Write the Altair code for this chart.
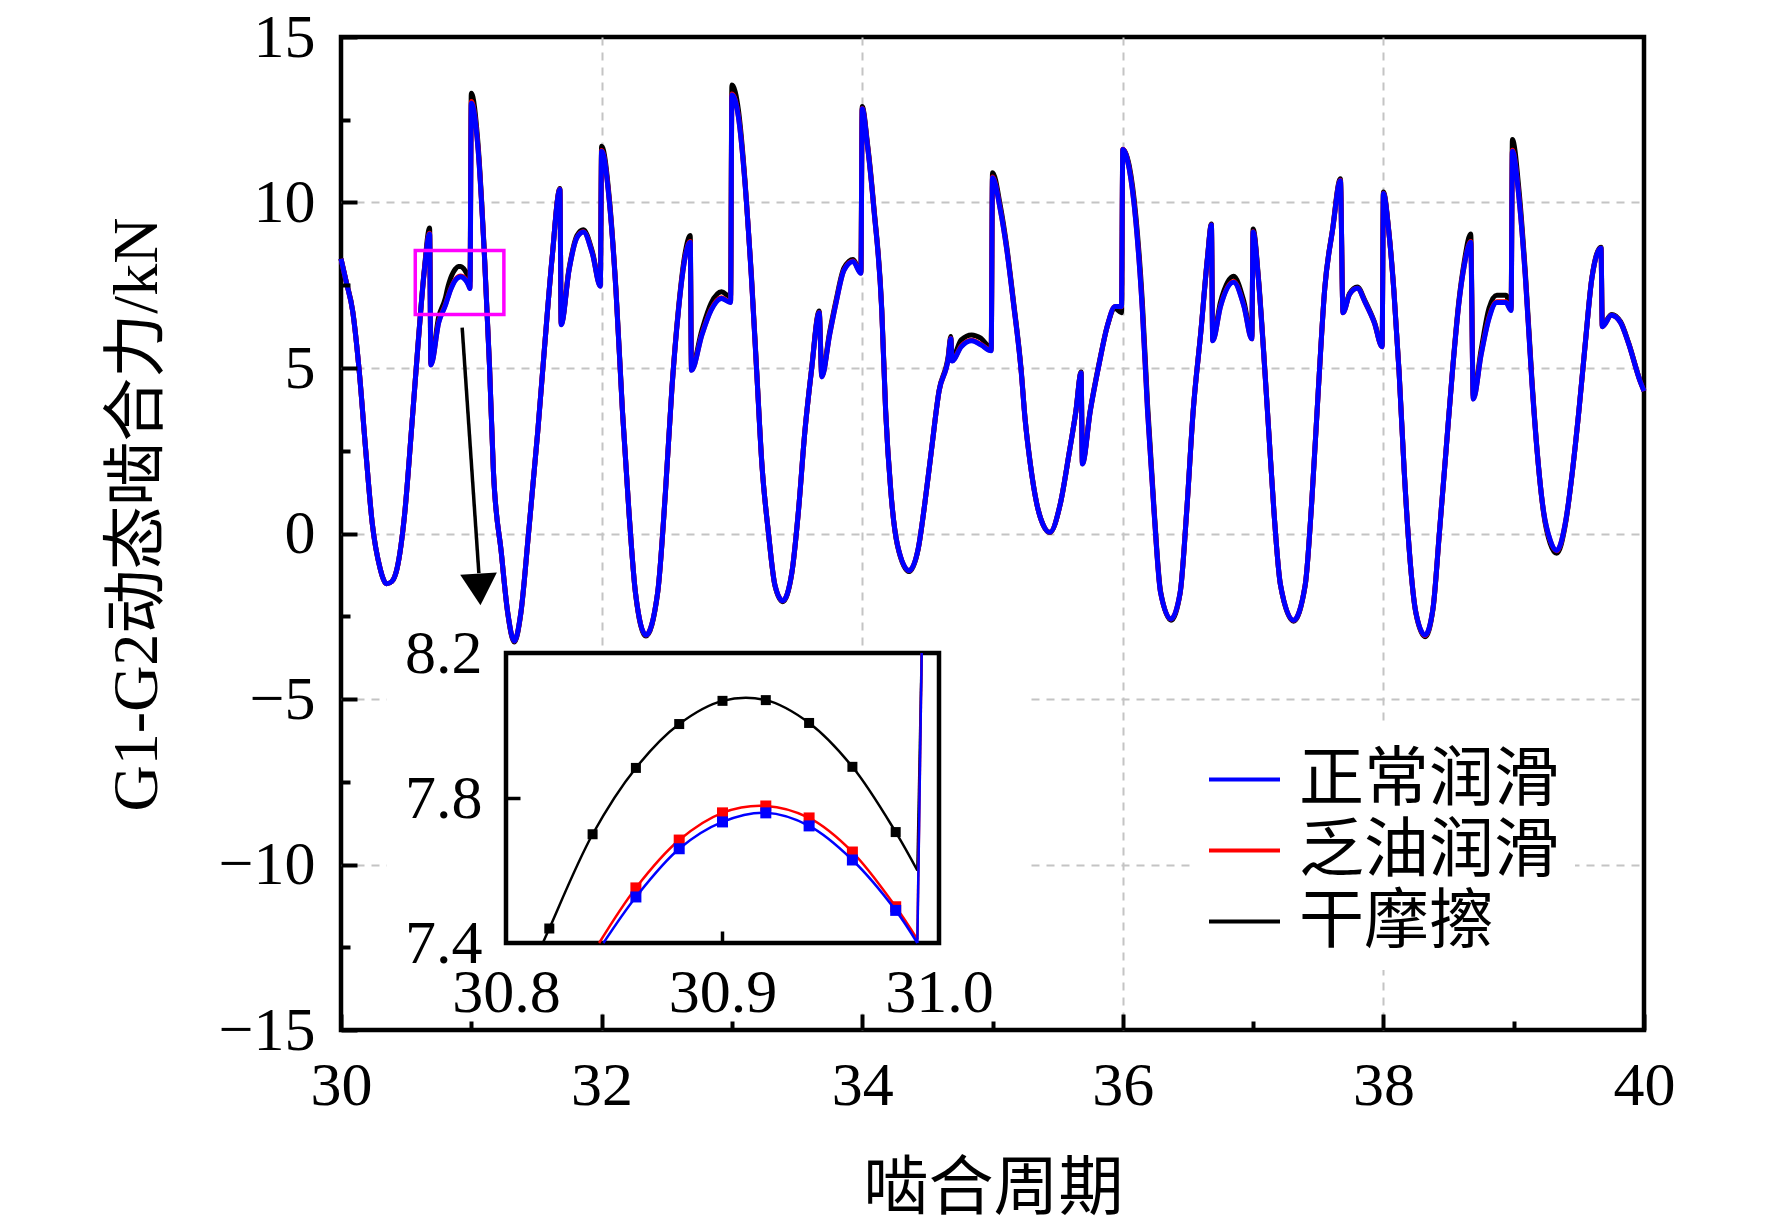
import altair as alt
import pandas as pd

# ---------------- data ----------------
cycle_x = [
    30.00, 30.04, 30.09, 30.14, 30.19, 30.24, 30.30, 30.35, 30.39, 30.43, 30.49, 30.54, 30.59, 30.64, 30.68, 30.69, 30.75, 30.80, 30.82, 30.84, 30.86, 30.88, 30.90, 30.92, 30.94, 30.96, 30.98, 30.99,
    31.00, 31.05, 31.10, 31.14, 31.17, 31.23, 31.28, 31.33, 31.38, 31.44, 31.51, 31.56, 31.62, 31.68, 31.69, 31.75, 31.81, 31.86, 31.93, 31.99,
    32.00, 32.06, 32.11, 32.16, 32.21, 32.26, 32.34, 32.43, 32.49, 32.54, 32.59, 32.64, 32.68, 32.69, 32.77, 32.84, 32.92, 32.99,
    33.00, 33.05, 33.10, 33.15, 33.19, 33.23, 33.28, 33.33, 33.39, 33.46, 33.51, 33.56, 33.61, 33.67, 33.69, 33.75, 33.80, 33.86, 33.93, 33.99,
    34.00, 34.04, 34.09, 34.15, 34.18, 34.22, 34.27, 34.36, 34.43, 34.48, 34.53, 34.59, 34.66, 34.68, 34.69, 34.76, 34.84, 34.91, 34.99,
    35.00, 35.06, 35.11, 35.16, 35.22, 35.25, 35.29, 35.34, 35.39, 35.44, 35.52, 35.59, 35.64, 35.68, 35.69, 35.75, 35.82, 35.88, 35.94, 35.99,
    36.00, 36.05, 36.10, 36.15, 36.19, 36.24, 36.29, 36.37, 36.44, 36.49, 36.54, 36.60, 36.65, 36.68, 36.69, 36.75, 36.85, 36.93, 36.99,
    37.00, 37.04, 37.08, 37.12, 37.16, 37.21, 37.31, 37.40, 37.45, 37.50, 37.55, 37.61, 37.67, 37.69, 37.74, 37.80, 37.86, 37.93, 37.99,
    38.00, 38.04, 38.08, 38.12, 38.16, 38.20, 38.25, 38.32, 38.38, 38.43, 38.48, 38.53, 38.58, 38.62, 38.67, 38.69, 38.75, 38.81, 38.87, 38.94, 38.98, 38.99,
    39.04, 39.09, 39.14, 39.18, 39.23, 39.28, 39.33, 39.40, 39.45, 39.50, 39.55, 39.60, 39.67, 39.68, 39.75, 39.82, 39.88, 39.97, 40.00,
]

force_normal = [
    8.30, 7.60, 6.70, 4.90, 2.50, 0.30, -1.05, -1.52, -1.45, -1.06, 0.65, 3.08, 5.64, 7.95, 9.05, 5.09, 6.37, 6.88, 7.12, 7.35, 7.53, 7.66, 7.73, 7.76, 7.72, 7.63, 7.49, 7.40,
    13.00, 11.70, 8.44, 5.03, 1.86, -0.57, -2.40, -3.25, -2.40, 0.04, 3.08, 5.52, 8.32, 10.39, 6.31, 7.95, 8.93, 9.11, 8.44, 7.47,
    11.55, 10.00, 7.34, 3.69, 0.65, -1.79, -3.07, -1.79, 1.25, 4.40, 6.74, 8.32, 8.80, 4.93, 6.00, 6.74, 7.10, 6.98,
    13.25, 12.58, 10.60, 7.71, 4.90, 2.10, 0.04, -1.55, -2.03, -1.18, 0.65, 3.08, 4.90, 6.67, 4.73, 6.00, 6.98, 7.95, 8.22, 7.86,
    12.83, 11.73, 9.78, 6.74, 3.69, 1.25, -0.33, -1.12, -0.45, 0.89, 2.47, 4.30, 5.28, 5.88, 5.21, 5.64, 5.82, 5.70, 5.52,
    10.75, 9.78, 8.56, 6.98, 4.90, 3.45, 2.10, 0.89, 0.25, 0.04, 0.89, 2.47, 3.69, 4.85, 2.10, 3.69, 5.15, 6.25, 6.86, 6.86,
    11.60, 11.00, 9.42, 6.74, 3.69, 0.65, -1.79, -2.58, -1.79, 0.65, 3.69, 6.13, 8.32, 9.32, 5.82, 6.86, 7.59, 6.86, 5.88,
    9.11, 7.71, 5.52, 3.08, 0.65, -1.55, -2.62, -1.55, 0.95, 4.30, 7.40, 9.17, 10.66, 6.67, 7.22, 7.41, 6.98, 6.37, 5.64,
    10.27, 9.17, 7.34, 4.90, 1.86, -0.57, -2.40, -3.07, -2.28, 0.04, 2.47, 4.90, 6.98, 8.08, 8.80, 4.06, 5.40, 6.49, 6.98, 6.98, 6.74, 11.55,
    10.15, 7.71, 4.54, 2.47, 0.65, -0.20, -0.51, 0.40, 1.86, 3.69, 5.76, 7.71, 8.62, 6.25, 6.59, 6.37, 5.76, 4.60, 4.30,
]

force_starved = [
    8.30, 7.60, 6.70, 4.90, 2.50, 0.30, -1.05, -1.52, -1.45, -1.06, 0.65, 3.08, 5.64, 7.95, 9.07, 5.10, 6.39, 6.90, 7.14, 7.37, 7.55, 7.68, 7.76, 7.78, 7.75, 7.65, 7.50, 7.41,
    13.05, 11.72, 8.45, 5.03, 1.86, -0.57, -2.40, -3.25, -2.40, 0.04, 3.08, 5.52, 8.32, 10.40, 6.32, 7.96, 8.94, 9.12, 8.45, 7.48,
    11.57, 10.01, 7.34, 3.69, 0.65, -1.79, -3.07, -1.79, 1.25, 4.40, 6.75, 8.33, 8.82, 4.94, 6.02, 6.76, 7.12, 6.99,
    13.28, 12.60, 10.61, 7.71, 4.90, 2.10, 0.04, -1.55, -2.03, -1.18, 0.65, 3.08, 4.90, 6.68, 4.74, 6.01, 6.99, 7.96, 8.23, 7.87,
    12.84, 11.74, 9.79, 6.74, 3.69, 1.25, -0.33, -1.12, -0.45, 0.89, 2.47, 4.30, 5.29, 5.89, 5.22, 5.66, 5.84, 5.72, 5.53,
    10.77, 9.79, 8.57, 6.98, 4.90, 3.45, 2.10, 0.89, 0.25, 0.04, 0.89, 2.47, 3.69, 4.85, 2.11, 3.69, 5.15, 6.25, 6.86, 6.85,
    11.61, 11.01, 9.44, 6.76, 3.70, 0.65, -1.79, -2.58, -1.79, 0.65, 3.69, 6.13, 8.32, 9.32, 5.83, 6.87, 7.61, 6.87, 5.88,
    9.12, 7.71, 5.52, 3.08, 0.65, -1.55, -2.62, -1.55, 0.95, 4.30, 7.40, 9.17, 10.67, 6.67, 7.22, 7.41, 6.98, 6.37, 5.64,
    10.28, 9.17, 7.34, 4.90, 1.86, -0.57, -2.40, -3.08, -2.28, 0.04, 2.47, 4.90, 6.98, 8.09, 8.82, 4.07, 5.42, 6.52, 7.00, 7.00, 6.75, 11.58,
    10.17, 7.72, 4.55, 2.47, 0.64, -0.21, -0.52, 0.40, 1.86, 3.69, 5.76, 7.71, 8.62, 6.25, 6.59, 6.37, 5.76, 4.60, 4.30,
]

force_dry = [
    8.30, 7.62, 6.72, 4.90, 2.50, 0.30, -1.05, -1.52, -1.45, -1.06, 0.65, 3.08, 5.66, 8.00, 9.23, 5.15, 6.55, 7.10, 7.44, 7.70, 7.88, 8.00, 8.07, 8.07, 8.01, 7.89, 7.71, 7.60,
    13.30, 11.85, 8.50, 5.05, 1.86, -0.57, -2.42, -3.28, -2.42, 0.04, 3.08, 5.52, 8.32, 10.42, 6.35, 8.00, 9.00, 9.18, 8.50, 7.52,
    11.70, 10.10, 7.40, 3.72, 0.65, -1.80, -3.10, -1.80, 1.25, 4.42, 6.80, 8.45, 9.00, 5.00, 6.15, 6.95, 7.30, 7.15,
    13.55, 12.80, 10.70, 7.80, 4.95, 2.12, 0.04, -1.57, -2.06, -1.20, 0.65, 3.08, 4.92, 6.72, 4.78, 6.08, 7.05, 8.02, 8.28, 7.90,
    12.90, 11.80, 9.85, 6.80, 3.72, 1.27, -0.35, -1.15, -0.47, 0.89, 2.47, 4.32, 5.35, 5.95, 5.30, 5.85, 6.00, 5.90, 5.60,
    10.90, 9.90, 8.65, 7.05, 4.95, 3.48, 2.12, 0.90, 0.25, 0.03, 0.89, 2.47, 3.70, 4.88, 2.15, 3.72, 5.18, 6.25, 6.80, 6.67,
    11.60, 11.10, 9.60, 7.00, 3.90, 0.75, -1.75, -2.62, -1.80, 0.65, 3.70, 6.15, 8.35, 9.35, 5.88, 7.00, 7.77, 7.00, 5.95,
    9.20, 7.78, 5.58, 3.10, 0.66, -1.56, -2.65, -1.56, 0.95, 4.30, 7.42, 9.20, 10.72, 6.70, 7.25, 7.45, 7.02, 6.40, 5.68,
    10.32, 9.20, 7.38, 4.92, 1.88, -0.58, -2.42, -3.12, -2.30, 0.04, 2.47, 4.92, 7.05, 8.20, 9.05, 4.15, 5.55, 6.80, 7.20, 7.20, 6.85, 11.90,
    10.40, 7.85, 4.65, 2.50, 0.60, -0.30, -0.60, 0.35, 1.85, 3.69, 5.78, 7.73, 8.65, 6.28, 6.62, 6.40, 5.78, 4.62, 4.32,
]

assert len(cycle_x) == len(force_normal) == len(force_starved) == len(force_dry)

series_names = ["正常润滑", "乏油润滑", "干摩擦"]
series_colors = ["#0000ff", "#ff0000", "#000000"]

main_x_domain = [30, 40]
main_y_domain = [-15, 15]
x_ticks_major = [30, 32, 34, 36, 38, 40]
x_ticks_minor = [31, 33, 35, 37, 39]
y_ticks_major = [-15, -10, -5, 0, 5, 10, 15]
y_ticks_minor = [-12.5, -7.5, -2.5, 2.5, 7.5, 12.5]

# inset (zoom of 30.8 – 31.0)
inset_x_domain = [30.8, 31.0]
inset_y_domain = [7.4, 8.2]
inset_x_ticks = [30.8, 30.9, 31.0]
inset_y_ticks = [7.4, 7.8, 8.2]
inset_x_minor = [30.9]
inset_y_minor = [7.8]
inset_sample_x = [30.82, 30.84, 30.86, 30.88, 30.90, 30.92, 30.94, 30.96, 30.98]
inset_dry = [7.44, 7.70, 7.883, 8.004, 8.068, 8.070, 8.007, 7.886, 7.706]
inset_starved = [7.14, 7.37, 7.552, 7.684, 7.759, 7.778, 7.745, 7.651, 7.500]
inset_normal = [7.12, 7.35, 7.527, 7.660, 7.734, 7.759, 7.723, 7.629, 7.490]
# where each curve enters at the bottom edge, its last low value, and the jump
inset_dry_edge_x = [30.817, 30.99, 30.992]
inset_dry_edge_y = [7.40, 7.60, 13.30]
inset_starved_edge_x = [30.843, 30.99, 30.992]
inset_starved_edge_y = [7.40, 7.41, 13.10]
inset_normal_edge_x = [30.845, 30.99, 30.992]
inset_normal_edge_y = [7.40, 7.40, 13.00]

# annotations (main-axis units)
zoom_box_x = [30.57, 31.25]
zoom_box_y = [6.62, 8.55]
arrow_x = [30.93, 31.058]
arrow_y = [6.22, -1.20]
arrow_head_x = [31.063]
arrow_head_y = [-1.69]
inset_backdrop_x = [30.35, 35.26]
inset_backdrop_y = [-14.5, -3.47]

# ---------------- layout ----------------
W, H = 1303, 993
INSET_LEFT, INSET_RIGHT, INSET_TOP, INSET_BOTTOM = 165, 598, 616, 906
SERIF = "Liberation Serif"
CJK = "Noto Sans CJK SC"
FS = 62

# ---------------- tables ----------------
rows = []
for name, ys in zip(series_names, [force_normal, force_starved, force_dry]):
    for xv, yv in zip(cycle_x, ys):
        rows.append({"x": xv, "y": yv, "series": name})
df_main = pd.DataFrame(rows)

irows = []
for name, ys, ex, ey in [
    (series_names[2], inset_dry, inset_dry_edge_x, inset_dry_edge_y),
    (series_names[1], inset_starved, inset_starved_edge_x, inset_starved_edge_y),
    (series_names[0], inset_normal, inset_normal_edge_x, inset_normal_edge_y),
]:
    irows.append({"x": ex[0], "y": ey[0], "series": name, "marker": False, "seg": "a"})
    for xv, yv in zip(inset_sample_x, ys):
        if yv >= inset_y_domain[0]:
            irows.append({"x": xv, "y": yv, "series": name, "marker": True, "seg": "a"})
    irows.append({"x": ex[1], "y": ey[1], "series": name, "marker": False, "seg": "a"})
    irows.append({"x": ex[1], "y": ey[1], "series": name, "marker": False, "seg": "b"})
    irows.append({"x": ex[2], "y": ey[2], "series": name, "marker": False, "seg": "b"})
df_inset = pd.DataFrame(irows)

df_box = pd.DataFrame({"x": [zoom_box_x[0]], "x2": [zoom_box_x[1]], "y": [zoom_box_y[0]], "y2": [zoom_box_y[1]]})
df_backdrop = pd.DataFrame({"x": [inset_backdrop_x[0]], "x2": [inset_backdrop_x[1]],
                            "y": [inset_backdrop_y[0]], "y2": [inset_backdrop_y[1]]})
df_arrow = pd.DataFrame({"x": [arrow_x[0]], "x2": [arrow_x[1]], "y": [arrow_y[0]], "y2": [arrow_y[1]]})
df_head = pd.DataFrame({"x": arrow_head_x, "y": arrow_head_y})
df_inset_frame = pd.DataFrame({"x": [inset_x_domain[0]], "x2": [inset_x_domain[1]],
                               "y": [inset_y_domain[0]], "y2": [inset_y_domain[1]]})

# ---------------- scales & axes ----------------
sx = alt.Scale(domain=main_x_domain, nice=False, zero=False)
sy = alt.Scale(domain=main_y_domain, nice=False, zero=False)

grid_x_op = {"condition": {"test": "datum.value <= 30 || datum.value >= 40", "value": 0}, "value": 1}
grid_y_op = {"condition": {"test": "datum.value <= -15 || datum.value >= 15", "value": 0}, "value": 1}

x_axis = alt.Axis(values=x_ticks_major, format="d", labelFont=SERIF, labelFontSize=FS, labelColor="black",
                  labelPadding=25, labelFlush=False, labelOverlap=False, ticks=False, domain=False,
                  grid=True, gridColor="#c4c4c4", gridDash=[8, 7], gridWidth=2, gridOpacity=grid_x_op,
                  title="啮合周期", titleFont=CJK, titleFontSize=65, titleFontWeight="normal",
                  titleColor="black", titleBaseline="alphabetic", titleY=178, titleX=652)
y_axis = alt.Axis(values=y_ticks_major, format="d", labelFont=SERIF, labelFontSize=FS, labelColor="black",
                  labelPadding=26, labelOverlap=False, ticks=False, domain=False,
                  grid=True, gridColor="#c4c4c4", gridDash=[8, 7], gridWidth=2, gridOpacity=grid_y_op,
                  title="G1-G2动态啮合力/kN", titleFont=SERIF + ", " + CJK, titleFontSize=64,
                  titleFontWeight="normal", titleColor="black", titleAngle=270, titleAlign="center",
                  titleBaseline="alphabetic", titleX=-185, titleY=477)

x_enc = alt.X("x:Q", scale=sx, axis=x_axis)
y_enc = alt.Y("y:Q", scale=sy, axis=y_axis)

color_enc = alt.Color(
    "series:N",
    scale=alt.Scale(domain=series_names, range=series_colors),
    legend=alt.Legend(orient="none", legendX=851, legendY=690, title=None, fillColor="white",
                      padding=15, symbolType="stroke", symbolSize=5041, symbolStrokeWidth=4,
                      labelFont=CJK, labelFontSize=65, labelColor="black", labelOffset=17,
                      rowPadding=0, labelLimit=0),
)

# ---------------- main layers ----------------
backdrop = alt.Chart(df_backdrop).mark_rect(color="white").encode(x=x_enc, x2="x2", y=y_enc, y2="y2")


def line_layer(name):
    return (alt.Chart(df_main)
            .transform_filter(alt.datum.series == name)
            .mark_line(strokeWidth=5, interpolate="monotone")
            .encode(x=x_enc, y=y_enc, color=color_enc))


box = alt.Chart(df_box).mark_rect(fillOpacity=0, stroke="#ff00ff", strokeWidth=3.5).encode(
    x=x_enc, x2="x2", y=y_enc, y2="y2")
arrow = alt.Chart(df_arrow).mark_rule(color="black", strokeWidth=3.5).encode(
    x=x_enc, x2="x2", y=y_enc, y2="y2")
head = alt.Chart(df_head).mark_point(shape="triangle-down", filled=True, size=1350, color="black",
                                     opacity=1, angle=356.5).encode(x=x_enc, y=y_enc)

main = alt.layer(backdrop, line_layer(series_names[2]), line_layer(series_names[1]),
                 line_layer(series_names[0]), box, arrow, head)


def tick_layer(xvals, yvals, size):
    return alt.Chart(df_main).mark_point(opacity=0).encode(
        x=alt.X("x:Q", scale=sx, axis=alt.Axis(orient="top", offset=-H, values=xvals, labels=False,
                                               domain=False, grid=False, ticks=True, tickSize=size,
                                               tickWidth=4, tickColor="black", title=None, zindex=1)),
        y=alt.Y("y:Q", scale=sy, axis=alt.Axis(orient="right", offset=-W, values=yvals, labels=False,
                                               domain=False, grid=False, ticks=True, tickSize=size,
                                               tickWidth=4, tickColor="black", title=None, zindex=1)),
    )


ticks_major = tick_layer(x_ticks_major, y_ticks_major, 16)
ticks_minor = tick_layer(x_ticks_minor, y_ticks_minor, 9)

# ---------------- inset ----------------
sxi = alt.Scale(domain=inset_x_domain, range=[INSET_LEFT, INSET_RIGHT], clamp=True, nice=False, zero=False)
syi = alt.Scale(domain=inset_y_domain, range=[INSET_BOTTOM, INSET_TOP], clamp=True, nice=False, zero=False)

xi_axis = alt.Axis(orient="bottom", offset=-(H - INSET_BOTTOM), values=inset_x_ticks, format=".1f",
                   labelFont=SERIF, labelFontSize=FS, labelColor="black", labelPadding=19,
                   labelFlush=False, labelOverlap=False, ticks=False, domain=False, grid=False,
                   title=None, zindex=1)
yi_axis = alt.Axis(orient="left", offset=-INSET_LEFT, values=inset_y_ticks, format=".1f",
                   labelFont=SERIF, labelFontSize=FS, labelColor="black", labelPadding=24,
                   labelOverlap=False, ticks=False, domain=False, grid=False, title=None, zindex=1)
xi_enc = alt.X("x:Q", scale=sxi, axis=xi_axis)
yi_enc = alt.Y("y:Q", scale=syi, axis=yi_axis)

inset_frame = alt.Chart(df_inset_frame).mark_rect(fill="white", stroke="black", strokeWidth=4.5).encode(
    x=xi_enc, x2="x2", y=yi_enc, y2="y2")

inset_parts = [inset_frame]
for name, col, msize in [(series_names[2], series_colors[2], 100),
                         (series_names[1], series_colors[1], 121),
                         (series_names[0], series_colors[0], 121)]:
    inset_parts.append(
        alt.Chart(df_inset).transform_filter(alt.datum.series == name)
        .mark_line(color=col, strokeWidth=2.5, interpolate="catmull-rom")
        .encode(x=xi_enc, y=yi_enc, detail="seg:N"))
    inset_parts.append(
        alt.Chart(df_inset).transform_filter((alt.datum.series == name) & alt.datum.marker)
        .mark_point(shape="square", filled=True, color=col, size=msize, opacity=1)
        .encode(x=xi_enc, y=yi_enc))
inset = alt.layer(*inset_parts)

inset_ticks = alt.Chart(df_inset_frame).mark_point(opacity=0).encode(
    x=alt.X("x:Q", scale=sxi, axis=alt.Axis(orient="top", offset=-INSET_BOTTOM, values=inset_x_minor,
                                            labels=False, domain=False, grid=False, ticks=True,
                                            tickSize=12, tickWidth=3.5, tickColor="black",
                                            title=None, zindex=1)),
    y=alt.Y("y:Q", scale=syi, axis=alt.Axis(orient="right", offset=INSET_LEFT - W, values=inset_y_minor,
                                            labels=False, domain=False, grid=False, ticks=True,
                                            tickSize=14, tickWidth=3.5, tickColor="black",
                                            title=None, zindex=1)),
)

chart = (
    alt.layer(main, ticks_major, ticks_minor, inset, inset_ticks)
    .resolve_scale(x="independent", y="independent")
    .properties(width=W, height=H,
                padding={"left": 333, "top": 29, "right": 110, "bottom": 190},
                autosize=alt.AutoSizeParams(type="none"),
                background="white")
    .configure_view(stroke="black", strokeWidth=4.5)
)

chart.save("out.html", embed_options={"renderer": "svg", "actions": False})
